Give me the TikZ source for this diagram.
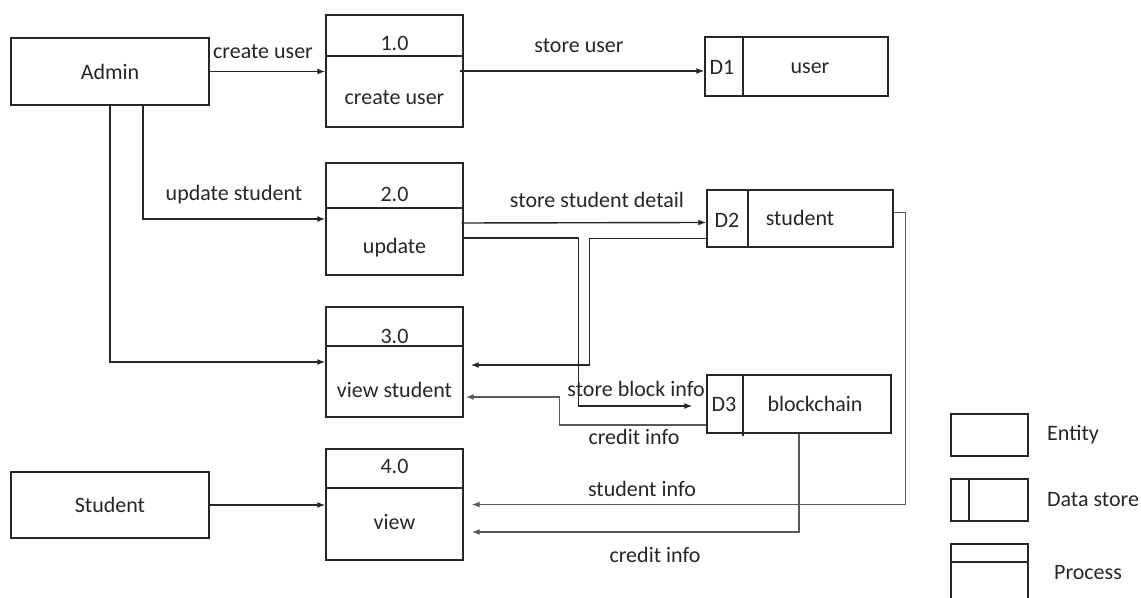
\documentclass[tikz,border=0pt]{standalone}
\usepackage{fontspec}
\setmainfont{Carlito}
\usetikzlibrary{arrows.meta,calc}
\begin{document}
\begin{tikzpicture}[x=0.5pt,y=-0.5pt,
  box/.style={draw=black!85, line width=0.7pt, inner sep=0pt, rectangle},
  ent/.style={box, minimum width=99pt, minimum height=33.5pt},
  proc/.style={box, minimum width=68.5pt, minimum height=56pt},
  dstore/.style={box, minimum height=29pt},
  arr/.style={-{Latex[length=4pt,width=3pt]}, line width=0.7pt, draw=black!85},
  garr/.style={arr, draw=black!65},
  txt/.style={font=\fontsize{11}{13}\selectfont, inner sep=0pt, text=black!85},
  ln/.style={line width=0.7pt, draw=black!85}]
\useasboundingbox (0,0) rectangle (1141,598);

% entities
\node[ent] (admin) at (110,71.5) {};
\node[txt] (admintxt) at (110,71.5) {Admin};
\node[ent, minimum height=33pt] (student) at (110,505) {};
\node[txt] (studenttxt) at (110,505) {Student};

% processes
\node[proc] (p1) at (394.5,71) {};
\draw[ln] (326,56) -- (463,56);
\node[txt] (p1n) at (394.5,43) {1.0};
\node[txt] (p1t) at (394.5,98) {create user};

\node[proc] (p2) at (394.5,219) {};
\draw[ln] (326,208) -- (463,208);
\node[txt] (p2n) at (394.5,194) {2.0};
\node[txt] (p2t) at (394.5,248) {update};

\node[proc, minimum height=55pt] (p3) at (394.5,362) {};
\draw[ln] (326,346) -- (463,346);
\node[txt] (p3n) at (394.5,336) {3.0};
\node[txt] (p3t) at (394.5,390) {view student};

\node[proc, minimum height=55.5pt] (p4) at (394.5,504.5) {};
\draw[ln] (326,488) -- (463,488);
\node[txt] (p4n) at (394.5,466) {4.0};
\node[txt] (p4t) at (394.5,522) {view};

% data stores
\node[dstore, minimum width=91.5pt, minimum height=29.5pt] (d1) at (796.5,66.5) {};
\draw[ln] (743,37) -- (743,96);
\node[txt] (d1n) at (722,67) {D1};
\node[txt] (d1t) at (810,68) {user};

\node[dstore, minimum width=93pt, minimum height=28.5pt] (d2) at (800,218.5) {};
\draw[ln] (748,190) -- (748,247);
\node[txt] (d2n) at (727,220) {D2};
\node[txt] (d2t) at (800,218) {student};

\node[dstore, minimum width=92pt] (d3) at (799,404) {};
\draw[ln] (743,375) -- (743,436);
\node[txt] (d3n) at (724,404) {D3};
\node[txt] (d3t) at (815,404) {blockchain};

% connectors
\draw[arr] (admin.east) -- (p1.west |- admin.east);
\draw[arr] ([xshift=-2pt]p1.east) -- (d1.west |- p1.east);
\coordinate (adm2) at ([xshift=16.5pt]admin.south);
\draw[arr] (adm2) |- (p2.west);
\draw[arr] (admin.south) |- (p3.west);
\draw[arr] (student.east) -- (p4.west |- student.east);
\draw[arr] ([yshift=-2pt,xshift=-1pt]p2.east) -- ([yshift=-2pt]d2.west);
\draw[arr] ([yshift=-9.5pt]p2.east) -| ([xshift=-64pt,yshift=-1pt]d3.west) -- ([xshift=-7pt,yshift=-1pt]d3.west);
\draw[arr] ([yshift=-10pt]d2.west) -| ([xshift=63pt,yshift=-1.5pt]p3.east) -- ([xshift=3.5pt,yshift=-1.5pt]p3.east);
\draw[garr] ([yshift=-10.5pt]d3.west) -| ([xshift=48pt,yshift=-17.5pt]p3.east) -- ([xshift=1pt,yshift=-17.5pt]p3.east);
\draw[garr] ([yshift=3pt]d2.east) -- ++(6pt,0) |- ([xshift=4pt]p4.east);
\draw[garr] (d3.south) |- ([xshift=4pt,yshift=-13.75pt]p4.east);

% labels
\node[txt] (l1) at (263,52) {create user};
\node[txt] (l2) at (579,46) {store user};
\node[txt] (l3) at (234,195) {update student};
\node[txt] (l4) at (597,200) {store student detail};
\node[txt] (l5) at (636,389) {store block info};
\node[txt] (l6) at (634,437) {credit info};
\node[txt] (l7) at (642,489) {student info};
\node[txt] (l8) at (655,555) {credit info};

% legend
\node[box, minimum width=38.5pt, minimum height=21pt] (lent) at (989.5,435) {};
\node[txt] (lentt) at (1073,435) {Entity};
\node[box, minimum width=38.5pt, minimum height=21pt] (lds) at (989.5,500) {};
\draw[ln] (969,479) -- (969,521);
\node[txt] (ldst) at (1093,500) {Data store};
\draw[ln] (951,598) -- (951,544) -- (1028,544) -- (1028,598);
\draw[ln] (951,562) -- (1028,562);
\node[txt] (lproc) at (1088,573) {Process};
\end{tikzpicture}
\end{document}
